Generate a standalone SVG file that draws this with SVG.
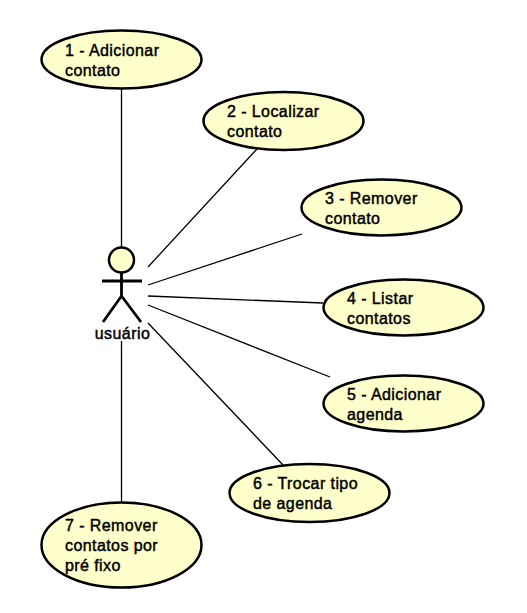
<svg xmlns="http://www.w3.org/2000/svg" width="527" height="613" viewBox="0 0 527 613">
<style>
.u{fill:#ffffcc;stroke:#000;stroke-width:2.5}
.a{fill:none;stroke:#000;stroke-width:2.8}
.c{fill:none;stroke:#000;stroke-width:1.3}
text{font-family:"Liberation Sans",Arial,sans-serif;font-size:16px;letter-spacing:.42px;fill:#000;stroke:#000;stroke-width:.45}
</style>
<rect width="527" height="613" fill="#fff"/>
<g id="connectors">
<line class="c" x1="121.500" y1="89" x2="121.500" y2="247"/>
<line class="c" x1="257" y1="149" x2="148" y2="267"/>
<line class="c" x1="302" y1="234" x2="148" y2="285"/>
<line class="c" x1="323" y1="303" x2="148" y2="296"/>
<line class="c" x1="330" y1="377" x2="148" y2="305"/>
<line class="c" x1="284" y1="466" x2="148" y2="323"/>
<line class="c" x1="121.500" y1="341" x2="121.500" y2="502"/>
</g>
<g id="uc1"><ellipse class="u" cx="121.500" cy="59.500" rx="80" ry="29"/><text x="65" y="56">1 - Adicionar</text><text x="65" y="76">contato</text></g>
<g id="uc2"><ellipse class="u" cx="283.500" cy="121" rx="80" ry="29"/><text x="227" y="117">2 - Localizar</text><text x="227" y="137">contato</text></g>
<g id="uc3"><ellipse class="u" cx="381.500" cy="207.500" rx="80" ry="28"/><text x="325" y="204">3 - Remover</text><text x="325" y="224">contato</text></g>
<g id="uc4"><ellipse class="u" cx="403.500" cy="307.500" rx="80" ry="28"/><text x="347" y="304">4 - Listar</text><text x="347" y="324">contatos</text></g>
<g id="uc5"><ellipse class="u" cx="403.500" cy="403.500" rx="80" ry="28"/><text x="347" y="400">5 - Adicionar</text><text x="347" y="420">agenda</text></g>
<g id="uc6"><ellipse class="u" cx="309.500" cy="493" rx="80" ry="29"/><text x="253" y="489">6 - Trocar tipo</text><text x="253" y="509">de agenda</text></g>
<g id="uc7"><ellipse class="u" cx="121.500" cy="545" rx="80" ry="42.500"/><text x="65" y="531">7 - Remover</text><text x="65" y="551">contatos por</text><text x="65" y="571">pré fixo</text></g>
<g id="actor">
<circle class="u" cx="121.500" cy="260" r="12.500"/>
<path class="a" d="M121.500 273V296M102 281H142M103 322L121.500 296L141 322"/>
<text x="122.500" y="339" text-anchor="middle">usuário</text>
</g>
</svg>
